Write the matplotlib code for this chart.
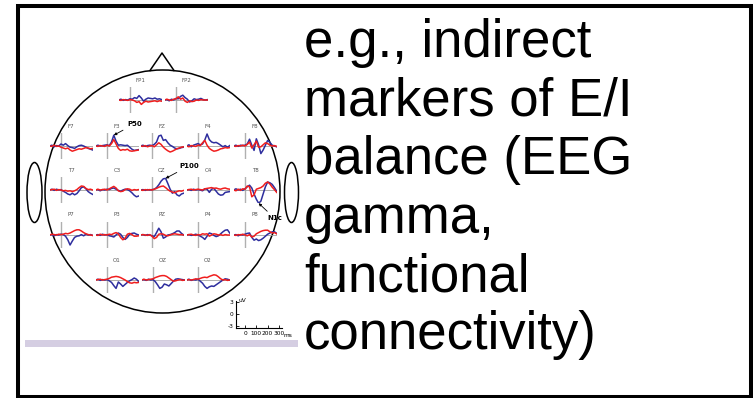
import matplotlib
matplotlib.use("Agg")
import matplotlib.pyplot as plt
from matplotlib.patches import Ellipse, Rectangle
from matplotlib.lines import Line2D

# ---------------------------------------------------------------- data
times_ms = [-100, -80, -60, -40, -20, 0, 20, 40, 60, 80,
            100, 120, 140, 160, 180, 200, 220, 240, 260, 280]

electrodes = ["FP1", "FP2",
              "F7", "F3", "FZ", "F4", "F8",
              "T7", "C3", "CZ", "C4", "T8",
              "P7", "P3", "PZ", "P4", "P8",
              "O1", "OZ", "O2"]

# ERP amplitudes (uV), condition A (blue)
blue_uV = {
    "FP1": [0, 0.2, -0.1, 0.1, 0, 0.3, 0.2, 0.6, 0.4, 1.1, 0.5, -0.3, 0.2, 0.5, 0.4, 0.3, 0.5, 0.2, 0.3, 0.1],
    "FP2": [0, 0.1, -0.2, 0.2, 0, 0.4, 0.3, 0.9, 1.2, 0.6, 0.2, -0.5, -0.2, 0.3, 0.1, 0.2, 0.4, 0.1, 0, 0.1],
    "F7":  [0, 0.2, -0.2, 0.1, 0, 0.5, 0.2, 0.6, 0.1, -0.3, -0.4, -0.6, -0.2, 0.1, 0.2, 0, -0.3, -0.6, -0.8, -1.0],
    "F3":  [0, 0.2, 0, 0.1, 0.2, 0.3, 0.1, 1.0, 2.7, 1.2, 0.2, 0.3, 0.2, 0.1, 0.2, -0.3, -0.8, -1.1, -1.0, -0.9],
    "FZ":  [0, 0.2, -0.1, 0.1, 0.2, 0.1, 0.4, 1.0, 2.5, 2.7, 1.4, 1.6, 0.8, 0.2, -0.1, -0.5, -0.7, -0.6, -0.4, -0.3],
    "F4":  [0, 0.3, -0.2, 0.2, 0.4, 0.6, 0.3, 0.5, 1.5, 3.0, 1.6, 1.0, 0.8, 0.9, 0.6, 0.2, -0.2, 0.1, -0.3, 0.1],
    "F8":  [0, 0.2, -0.1, 0.2, 0.1, 0.2, 0.5, 1.7, 0.2, -1.1, 1.8, 0.3, -1.9, -1.0, 0.2, 1.4, 0.9, 0.2, 0, -0.2],
    "T7":  [0, 0.2, -0.1, 0.2, 0, 0.1, -0.3, -0.6, -1.0, -1.2, -0.8, -1.2, -0.9, -0.2, 0.6, 0.8, 0.3, -0.4, -0.8, -1.1],
    "C3":  [0, 0.1, -0.2, 0.1, 0, 0.2, 0.1, 0.4, 0.5, 0.2, -0.1, -0.3, 0, 0.2, 0.1, -0.2, -0.7, -1.3, -1.7, -1.5],
    "CZ":  [0, 0.1, -0.1, 0.1, 0, 0.1, 0.2, 0.6, 1.3, 2.2, 2.8, 2.9, 1.6, 0.2, -0.8, -0.4, -1.2, -1.5, -1.0, -0.8],
    "C4":  [0, 0.1, -0.1, 0.2, 0, 0.1, 0, -0.2, 0.3, 0.2, -0.6, 0.2, 0.4, -0.3, -1.0, -1.3, -1.2, -0.6, -0.5, -0.4],
    "T8":  [0, 0.3, 0, 0.2, -0.1, 0.3, 0.8, 1.2, 0.5, -1.0, -2.3, -3.3, -2.8, -1.0, 0.8, 2.0, 1.8, 1.4, 0.6, -0.3],
    "P7":  [0, 0.1, -0.2, 0.1, 0, 0.2, 0.1, -0.3, -1.2, -2.5, -1.5, -0.6, -0.3, -0.2, 0.1, -0.2, 0.2, 0, 0.1, -0.1],
    "P3":  [0, 0.1, -0.1, 0.2, 0, 0.1, -0.2, -0.3, -0.5, 0, 0.5, 0.2, -0.6, -1.1, -0.6, 0.2, 0.4, 0.5, 0.2, 0],
    "PZ":  [0, 0.1, -0.1, 0.1, 0, -0.2, -0.4, 0.6, 1.7, 0.8, -0.8, -0.5, 0, 0.1, 0.3, 0.6, 1.0, 1.0, 0.4, 0],
    "P4":  [0, 0.1, -0.1, 0, 0.2, 0, -0.3, -0.6, -1.1, -0.3, 0.5, 0.3, -0.1, -0.4, -0.2, 0.3, 0.8, 1.2, 1.3, 0.5],
    "P8":  [0, 0.1, -0.2, 0.1, 0, 0.2, 0.4, 0.5, -0.6, -1.3, -1.0, -1.4, -1.2, -0.8, -0.3, 0.2, 0.5, 0.8, 0.8, 0.4],
    "O1":  [0, 0.2, -0.1, 0.1, 0, 0.1, -0.2, -0.6, -1.4, -2.1, -0.5, -1.0, -1.6, -1.1, -0.6, -0.2, 0.1, 0.5, 0.2, -0.4],
    "OZ":  [0, 0.1, -0.1, 0.2, 0, 0.1, -0.4, -1.2, -2.1, -1.8, -1.0, -1.2, -1.5, -0.9, -0.3, 0.2, 0.3, 0.2, 0.1, 0],
    "O2":  [0, 0.2, -0.1, 0.1, 0, 0.2, -0.3, -0.8, -1.6, -2.1, -1.7, -1.5, -1.6, -1.2, -0.8, -0.4, 0, 0.3, 0.2, 0],
}

# ERP amplitudes (uV), condition B (red)
red_uV = {
    "FP1": [0, -0.1, 0.1, 0, -0.1, 0.1, 0, -0.2, -0.6, -0.4, -1.1, -0.6, -0.3, -0.5, -0.4, -0.3, -0.2, -0.4, -0.2, -0.3],
    "FP2": [0, 0.2, 0, -0.1, 0.2, 0.3, 0.8, 0.2, 0.5, -0.3, -0.6, -0.2, -0.4, -0.3, 0, -0.1, 0.1, 0, 0, 0],
    "F7":  [0, -0.1, 0.2, -0.1, 0, -0.3, -0.5, -0.7, -0.5, -1.0, -1.3, -1.1, -0.9, -0.7, -0.8, -0.6, -0.4, -0.5, -0.7, -0.6],
    "F3":  [0, -0.1, 0.1, 0, -0.1, 0.2, 0, 0.6, 1.6, 0.5, -0.6, -1.1, -0.9, -1.0, -0.8, -1.2, -1.3, -1.2, -1.1, -1.0],
    "FZ":  [0, -0.1, 0.1, -0.2, 0, 0.1, -0.2, 0.3, 0.8, 0.4, -0.3, -0.8, -1.2, -1.5, -1.3, -1.0, -0.7, -0.5, -0.3, -0.2],
    "F4":  [0, -0.2, 0.1, 0, -0.1, 0.2, 0.1, 0.8, 1.4, 0.2, -0.6, -1.0, -1.3, -1.2, -1.0, -0.7, -0.6, -0.4, -0.5, -0.4],
    "F8":  [0, -0.1, 0.1, 0, 0.2, 0, 0.4, 1.0, -0.5, 0.3, 1.2, -0.3, -0.2, 0.3, 0.8, 0.6, 0.2, 0, 0.1, -0.1],
    "T7":  [0, 0.1, 0.2, -0.1, 0.1, 0, -0.2, -0.1, -0.3, -0.2, -0.4, -0.2, 0.1, 0.6, 1.0, 0.9, 0.4, 0.1, 0.2, 0],
    "C3":  [0, 0.2, 0, 0.1, 0.2, 0, 0.3, 0.6, 0.9, 0.5, -0.2, -0.4, -0.3, 0.1, 0.3, 0.2, -0.1, 0.1, 0, 0.1],
    "CZ":  [0, -0.1, 0.1, 0, 0.1, 0, 0.2, 0.4, 0.7, 0.9, 1.0, 0.6, 0.1, -0.3, -0.5, -0.7, -0.4, -0.2, -0.3, -0.1],
    "C4":  [0, 0.1, 0.2, 0, 0.1, 0.2, 0.1, 0, 0.3, 0.4, 0.5, 0.6, 0.4, 0.5, 0.3, 0.2, 0.4, 0.5, 0.3, 0.2],
    "T8":  [0, -0.2, 0.2, -0.1, 0.3, 0.2, 1.0, 0.8, -1.7, -1.2, 0.2, 0.4, 0.6, 1.0, 1.7, 2.0, 1.5, 0.7, 0.1, -0.6],
    "P7":  [0, 0.2, 0.1, 0, 0.2, 0.1, 0.2, 0.4, 0.3, 0.5, 0.8, 1.1, 1.3, 1.3, 1.0, 0.6, 0.3, 0.1, 0, -0.1],
    "P3":  [0, -0.1, 0.2, 0, 0.1, 0, 0.2, 0.1, 0.4, 0.6, 0.3, -0.6, -1.2, -0.8, 0.2, 0.4, 0.1, -0.3, -0.3, -0.2],
    "PZ":  [0, 0.1, 0, -0.1, 0.1, -0.3, -0.9, -0.6, 0.2, 0.3, 0.2, -0.1, -0.2, 0, 0.2, 0.3, 0.2, 0.1, 0.1, 0],
    "P4":  [0, 0.1, 0.2, 0, -0.1, 0.1, 0, 0.3, 0.2, 0.3, -0.3, 0, 0.3, 0.2, 0, 0.1, -0.1, 0.1, 0, 0],
    "P8":  [0, -0.1, 0.1, 0, 0.2, 0, -0.2, 0.1, -0.5, -0.3, 0.3, 0.6, 0.9, 1.1, 1.2, 1.2, 0.8, 0.5, 0.6, 0.3],
    "O1":  [0, 0.1, 0.2, 0, 0.1, 0.2, 0.4, 0.7, 0.8, 0.9, 0.8, 0.6, 0.3, 0, -0.4, -0.7, -0.8, -0.6, -0.7, -0.6],
    "OZ":  [0, 0.2, 0, 0.1, 0.2, 0.3, 0.6, 0.8, 1.0, 1.1, 1.1, 0.9, 0.5, 0.1, -0.3, -0.2, 0, 0.1, -0.1, 0],
    "O2":  [0, 0.1, 0, 0.1, 0.3, 0.2, 0.4, 0.6, 0.7, 0.6, 0.9, 1.1, 1.3, 1.2, 0.8, 0.3, 0, 0.1, -0.1, 0],
}

# labelled components: (electrode, label, time of marked sample)
components = [("F3", "P50", 60), ("CZ", "P100", 120), ("T8", "N1c", 120)]

scale_uV_ticks = [3, 0, -3]
scale_ms_ticks = [0, 100, 200, 300]

text_lines = ["e.g., indirect", "markers of E/I", "balance (EEG",
              "gamma,", "functional", "connectivity)"]

# ---------------------------------------------------------------- layout
W, H = 753, 398
BLUE = "#2e2e9e"
RED = "#f01e1e"
PX_PER_MS = 0.1133
PX_PER_UV = 4.0

# (x of stimulus line, y of zero line) in pixels
site_px = {
    "FP1": (130, 100), "FP2": (176, 100),
    "F7": (61, 146), "F3": (107, 146), "FZ": (152, 146), "F4": (198, 146), "F8": (245, 146),
    "T7": (61, 190), "C3": (107, 190), "CZ": (152, 190), "C4": (198, 190), "T8": (245, 190),
    "P7": (61, 235), "P3": (107, 235), "PZ": (152, 235), "P4": (198, 235), "P8": (245, 235),
    "O1": (107, 280), "OZ": (153, 280), "O2": (198, 280),
}
label_px = {"P50": (127, 124), "P100": (179, 166), "N1c": (267, 218)}

fig = plt.figure(figsize=(W / 100, H / 100), dpi=100)
base = fig.add_axes([0, 0, 1, 1])
base.set_xlim(0, W)
base.set_ylim(H, 0)
base.axis("off")

# slide frame and lavender strip
base.add_patch(Rectangle((18, 6), 733.5, 390.5, fill=False, ec="black", lw=2.9))
base.add_patch(Rectangle((25, 340), 273, 7, fc="#d5cee2", ec="none"))

# head outline, nose and ears
base.add_patch(Ellipse((162.5, 191.5), 235, 243, fill=False, ec="black", lw=1.1))
base.add_line(Line2D([150, 162, 174], [70.5, 53, 70.5], color="black", lw=1.1))
base.add_patch(Ellipse((34.5, 192.5), 15, 60, fill=False, ec="black", lw=1.1))
base.add_patch(Ellipse((291.5, 192.5), 14, 60, fill=False, ec="black", lw=1.1))

t0, t1 = times_ms[0], times_ms[-1]
half_h = 13
site_axes = {}
for name in electrodes:
    x0, y0 = site_px[name]
    left = x0 + t0 * PX_PER_MS
    width = (t1 - t0) * PX_PER_MS
    ax = fig.add_axes([left / W, 1 - (y0 + half_h) / H, width / W, 2 * half_h / H])
    ax.set_xlim(t0, t1)
    ax.set_ylim(-half_h / PX_PER_UV, half_h / PX_PER_UV)
    ax.axis("off")
    ax.patch.set_alpha(0)
    ax.axvline(0, color="#b0b0b0", lw=1.0, zorder=1)
    ax.axhline(0, color="#a0a0a0", lw=0.6, zorder=1)
    ax.plot(times_ms, blue_uV[name], color=BLUE, lw=1.1, zorder=2)
    ax.plot(times_ms, red_uV[name], color=RED, lw=1.1, zorder=3)
    base.text(x0 + 10, y0 - 20, name, fontsize=4, color="#555555",
              ha="center", va="center", family="Liberation Sans Narrow")
    site_axes[name] = ax

for name, label, t in components:
    ax = site_axes[name]
    v = blue_uV[name][times_ms.index(t)]
    ax.annotate(label, xy=(t, v), xycoords="data",
                xytext=label_px[label], textcoords=base.transData,
                fontsize=5, fontweight="bold", family="Liberation Sans Narrow",
                ha="left", va="center", annotation_clip=False,
                arrowprops=dict(arrowstyle="-|>", color="black", lw=0.6,
                                mutation_scale=4, shrinkA=1, shrinkB=0))

# amplitude / time scale
sx0 = 245
sc = fig.add_axes([(sx0 - 80 * PX_PER_MS) / W, 1 - 328 / H,
                   407 * PX_PER_MS / W, 26.8 / H])
sc.set_xlim(-80, 327)
sc.set_ylim(-3.5, 3.2)
sc.patch.set_alpha(0)
for s in ("top", "right"):
    sc.spines[s].set_visible(False)
for s in ("left", "bottom"):
    sc.spines[s].set_linewidth(0.8)
sc.set_yticks(scale_uV_ticks)
sc.set_yticklabels([str(v) for v in scale_uV_ticks])
sc.set_xticks(scale_ms_ticks)
sc.set_xticklabels([str(v) for v in scale_ms_ticks])
sc.tick_params(direction="in", length=2, width=0.6, labelsize=4.2, pad=2)
for lbl in sc.get_xticklabels() + sc.get_yticklabels():
    lbl.set_family("Liberation Sans Narrow")
base.text(239, 300, "uV", fontsize=4.2, ha="left", va="center",
          family="Liberation Sans Narrow")
base.text(284, 335.5, "ms", fontsize=4.2, ha="left", va="center",
          family="Liberation Sans Narrow")

# slide text
for i, line in enumerate(text_lines):
    base.text(304, 57 + i * 58.5, line, fontsize=38, family="Liberation Sans",
              ha="left", va="baseline", color="black")

fig.savefig("out.png", dpi=100)
